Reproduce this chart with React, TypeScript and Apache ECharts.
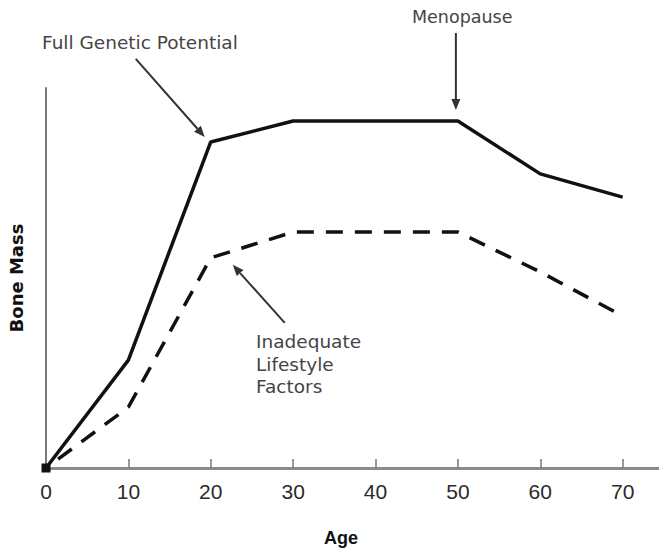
import React, { useEffect, useRef } from "react";
import * as echarts from "echarts";

const ages = [0, 10, 20, 30, 40, 50, 60, 70];
const fullPotential = [0, 28.4, 85.8, 91.3, 91.3, 91.3, 77.4, 71.3];
const inadequateLifestyle = [0, 16, 55.3, 62.1, 62.1, 62.1, 51.6, 40];
const xTicks = [0, 10, 20, 30, 40, 50, 60, 70];

const TEXT_FONT = "'DejaVu Sans', Verdana, sans-serif";
const TEXT_COLOR = "#454545";

function arrow(tail: number[], tip: number[]) {
  const dx = tip[0] - tail[0];
  const dy = tip[1] - tail[1];
  const len = Math.hypot(dx, dy);
  const ux = dx / len;
  const uy = dy / len;
  const L = 11;
  const W = 4.5;
  const base = [tip[0] - ux * L, tip[1] - uy * L];
  const left = [base[0] - uy * W, base[1] + ux * W];
  const right = [base[0] + uy * W, base[1] - ux * W];
  return [
    {
      type: "line",
      shape: { x1: tail[0], y1: tail[1], x2: base[0], y2: base[1] },
      style: { stroke: "#333", lineWidth: 2 },
    },
    {
      type: "polygon",
      shape: { points: [tip, left, right] },
      style: { fill: "#333" },
    },
  ];
}

export default function App() {
  const ref = useRef<HTMLDivElement>(null);

  useEffect(() => {
    if (!ref.current) return;
    const chart = echarts.init(ref.current, null, { renderer: "svg" });

    const solidData = ages.map((a, i) =>
      i === 0
        ? { value: [a, fullPotential[i]], symbol: "rect", symbolSize: 9 }
        : { value: [a, fullPotential[i]] }
    );
    const dashedData = ages.map((a, i) => [a, inadequateLifestyle[i]]);

    chart.setOption({
      animation: false,
      backgroundColor: "#ffffff",
      grid: {
        left: 46,
        top: 88,
        width: 659,
        height: 380,
        containLabel: false,
        outerBoundsMode: "none",
      },
      xAxis: {
        type: "value",
        min: 0,
        max: 80,
        interval: 10,
        axisLine: { lineStyle: { color: "#8a8a8a", width: 3 } },
        axisTick: { inside: true, length: 9, lineStyle: { color: "#777", width: 1.5 } },
        axisLabel: {
          margin: 13,
          showMaxLabel: false,
          fontFamily: "'Liberation Sans Narrow', 'Liberation Sans', Arial, sans-serif",
          fontSize: 21,
          color: "#2a2a2a",
          formatter: (v: number) => (xTicks.includes(v) ? String(v) : ""),
        },
        splitLine: { show: false },
      },
      yAxis: {
        type: "value",
        min: 0,
        max: 100,
        offset: 2,
        name: "Bone Mass",
        nameLocation: "middle",
        nameRotate: 90,
        nameGap: 19,
        nameTextStyle: {
          fontFamily: "'DejaVu Sans', Verdana, sans-serif",
          fontWeight: "bold",
          fontSize: 18,
          color: "#111",
        },
        axisLine: { show: true, lineStyle: { color: "#7a7a7a", width: 2 } },
        axisTick: { show: false },
        axisLabel: { show: false },
        splitLine: { show: false },
      },
      series: [
        {
          name: "Full Genetic Potential",
          type: "line",
          data: solidData,
          symbol: "none",
          showSymbol: true,
          itemStyle: { color: "#111" },
          lineStyle: { color: "#111", width: 3.5 },
          z: 3,
        },
        {
          name: "Inadequate Lifestyle Factors",
          type: "line",
          data: dashedData,
          symbol: "none",
          lineStyle: { color: "#111", width: 3.5, type: [17, 12], dashOffset: 14 },
          z: 2,
        },
      ],
    });

    const px = (x: number, y: number) =>
      chart.convertToPixel({ xAxisIndex: 0, yAxisIndex: 0 }, [x, y]) as number[];

    const peak = px(ages[2], fullPotential[2]);
    const meno = px(ages[5], fullPotential[5]);
    const inad = px(ages[2], inadequateLifestyle[2]);
    const ageCenter = px(35.8, 0);

    const tipFGP = [peak[0] - 6, peak[1] - 5];
    const tipMeno = [meno[0] - 2, meno[1] - 11];
    const tipInad = [inad[0] + 22, inad[1] + 7];

    chart.setOption({
      graphic: [
        ...arrow([tipFGP[0] - 69, tipFGP[1] - 78], tipFGP),
        ...arrow([tipMeno[0], tipMeno[1] - 77], tipMeno),
        ...arrow([tipInad[0] + 52, tipInad[1] + 58], tipInad),
        {
          type: "text",
          x: ageCenter[0],
          y: ageCenter[1] + 70,
          style: {
            text: "Age",
            font: "bold 18px 'Liberation Sans', Arial, sans-serif",
            fill: "#111",
            align: "center",
            verticalAlign: "middle",
          },
        },
        {
          type: "text",
          x: 42,
          y: 42,
          style: {
            text: "Full Genetic Potential",
            font: `18.5px ${TEXT_FONT}`,
            fill: TEXT_COLOR,
            verticalAlign: "middle",
            align: "left",
          },
        },
        {
          type: "text",
          x: 412,
          y: 17,
          style: {
            text: "Menopause",
            font: `17.5px ${TEXT_FONT}`,
            fill: TEXT_COLOR,
            verticalAlign: "middle",
            align: "left",
          },
        },
        {
          type: "text",
          x: 256,
          y: 364,
          style: {
            text: "Inadequate\nLifestyle\nFactors",
            font: `18.5px ${TEXT_FONT}`,
            lineHeight: 22.5,
            fill: TEXT_COLOR,
            verticalAlign: "middle",
            align: "left",
          },
        },
      ],
    });

    return () => chart.dispose();
  }, []);

  return (
    <div
      ref={ref}
      style={{ position: "absolute", left: 0, top: 0, width: 659, height: 551 }}
    />
  );
}
